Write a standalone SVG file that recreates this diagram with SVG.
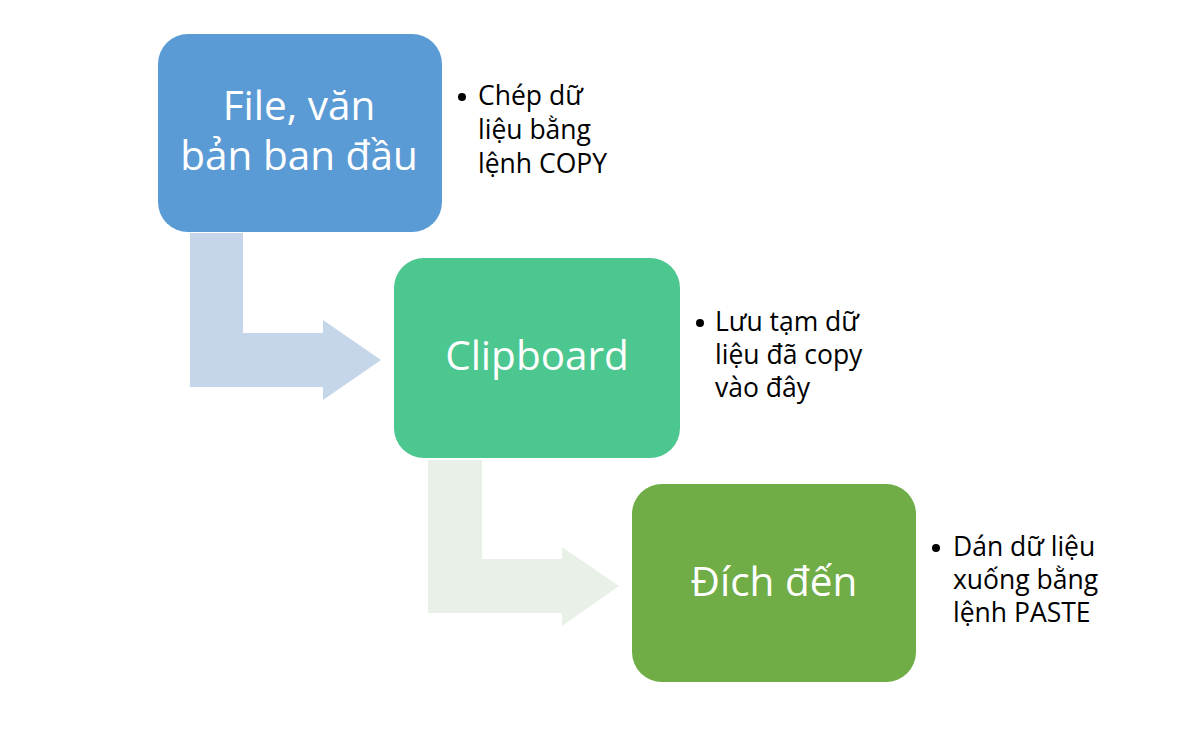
<svg xmlns="http://www.w3.org/2000/svg" width="1198" height="738" viewBox="0 0 1198 738">
<style>
.bt{font-family:"Open Sans","Noto Sans","DejaVu Sans",sans-serif;fill:#fff;font-size:40.5px;text-anchor:middle}
.nt{font-family:"Open Sans","Noto Sans","DejaVu Sans",sans-serif;fill:#000;font-size:26.5px}
</style>
<rect width="1198" height="738" fill="#fff"/>
<g id="connectors">
<path d="M190 233 H243 V333 H323 V320 L381 360 L323 400 V387 H190 Z" fill="#C5D5EA"/>
<path d="M428 460 H482 V559 H562 V547 L619 586 L562 626 V613 H428 Z" fill="#E9F0E8"/>
</g>
<g id="node1">
<rect x="158" y="34" width="284" height="198" rx="30" fill="#5B9BD5"/>
<text class="bt" x="299" y="120">File, văn</text>
<text class="bt" x="299" y="170">bản ban đầu</text>
</g>
<g id="node2">
<rect x="394" y="258" width="286" height="200" rx="30" fill="#4CC790"/>
<text class="bt" x="537" y="370">Clipboard</text>
</g>
<g id="node3">
<rect x="632" y="484" width="284" height="198" rx="30" fill="#70AD47"/>
<text class="bt" x="774" y="596">Đích đến</text>
</g>
<g id="note1">
<circle cx="462" cy="97" r="4" fill="#000"/>
<text class="nt" x="478" y="105">Chép dữ</text>
<text class="nt" x="478" y="139">liệu bằng</text>
<text class="nt" x="478" y="173">lệnh COPY</text>
</g>
<g id="note2">
<circle cx="700" cy="323" r="4" fill="#000"/>
<text class="nt" x="715" y="331">Lưu tạm dữ</text>
<text class="nt" x="715" y="364">liệu đã copy</text>
<text class="nt" x="715" y="397">vào đây</text>
</g>
<g id="note3">
<circle cx="936" cy="548" r="4" fill="#000"/>
<text class="nt" x="953" y="556">Dán dữ liệu</text>
<text class="nt" x="953" y="589">xuống bằng</text>
<text class="nt" x="953" y="622">lệnh PASTE</text>
</g>
</svg>
